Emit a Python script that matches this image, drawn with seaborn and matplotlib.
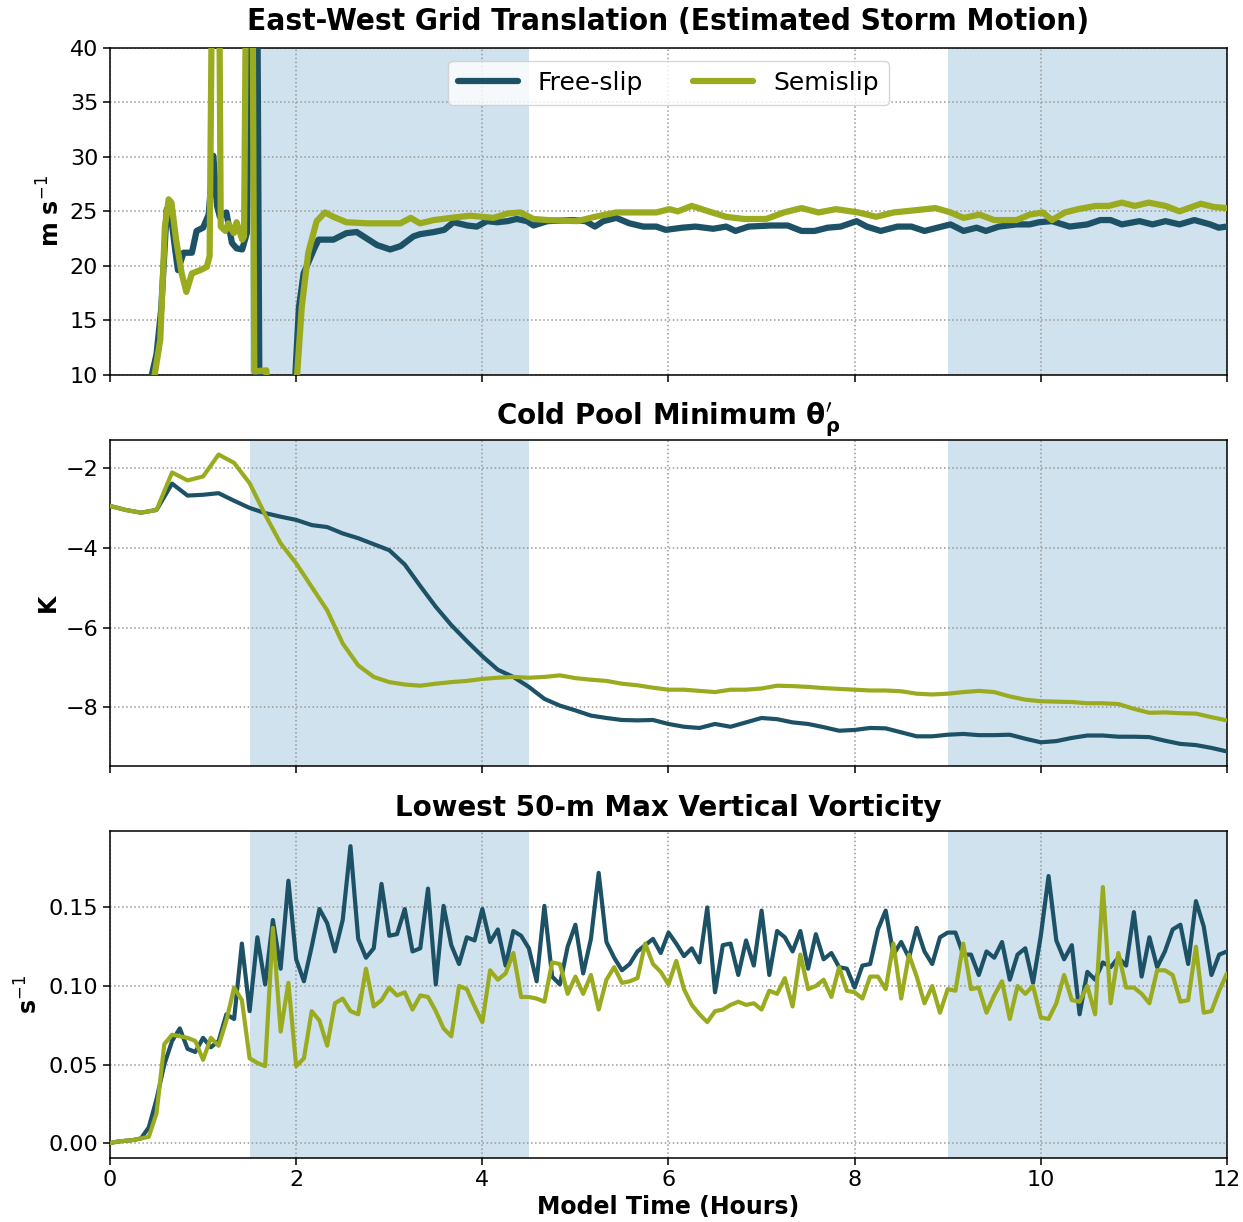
import numpy as np
import pandas as pd
import matplotlib
matplotlib.use("Agg")
import matplotlib.pyplot as plt
import seaborn as sns

# ---------------------------------------------------------------- data
# East-west grid translation (m/s), irregular output times (hours)
ew_free_hours = [0.0, 0.25, 0.42, 0.45, 0.50, 0.55, 0.61, 0.66, 0.70, 0.73, 0.79, 0.88, 0.93,
                 1.00, 1.06, 1.11, 1.15, 1.18, 1.25, 1.31, 1.36, 1.42, 1.47, 1.51, 1.58, 1.61,
                 1.96, 2.03, 2.08, 2.19, 2.24, 2.40, 2.54, 2.65, 2.76, 2.87, 3.01, 3.12, 3.26,
                 3.33, 3.48, 3.59, 3.69, 3.84, 3.94, 4.05, 4.16, 4.27, 4.37, 4.48, 4.55, 4.70,
                 4.97, 5.11, 5.21, 5.30, 5.44, 5.58, 5.73, 5.87, 5.97, 6.15, 6.29, 6.48, 6.62,
                 6.72, 6.86, 7.10, 7.28, 7.43, 7.57, 7.71, 7.85, 8.02, 8.13, 8.28, 8.46, 8.61,
                 8.75, 8.89, 9.03, 9.17, 9.31, 9.41, 9.55, 9.74, 9.88, 9.98, 10.12, 10.31,
                 10.50, 10.64, 10.75, 10.87, 11.06, 11.20, 11.34, 11.49, 11.65, 11.82, 11.91,
                 12.0]
ew_free = [0.0, 0.0, 4.0, 10.0, 11.9, 16.0, 25.2, 24.2, 21.5, 19.6, 21.2, 21.2, 23.2,
           23.5, 24.7, 30.1, 25.5, 24.5, 24.9, 22.1, 21.6, 21.5, 23.0, 50.0, 50.0, 0.0,
           5.0, 16.2, 19.3, 21.5, 22.4, 22.4, 23.0, 23.1, 22.5, 21.9, 21.5, 21.8, 22.7,
           22.9, 23.1, 23.3, 24.0, 23.7, 23.6, 24.1, 24.0, 24.1, 24.3, 24.1, 23.7, 24.1,
           24.2, 24.1, 23.6, 24.1, 24.4, 23.9, 23.6, 23.6, 23.3, 23.5, 23.6, 23.4, 23.6,
           23.2, 23.6, 23.7, 23.7, 23.2, 23.2, 23.5, 23.6, 24.1, 23.6, 23.2, 23.6, 23.6,
           23.2, 23.5, 23.8, 23.2, 23.5, 23.2, 23.6, 23.8, 23.8, 24.0, 24.1, 23.6,
           23.8, 24.2, 24.2, 23.8, 24.1, 23.8, 24.1, 23.8, 24.2, 23.8, 23.5,
           23.6]

ew_semi_hours = [0.0, 0.25, 0.45, 0.48, 0.54, 0.59, 0.63, 0.66, 0.71, 0.77, 0.82, 0.88, 0.97,
                 1.04, 1.07, 1.10, 1.17, 1.19, 1.24, 1.27, 1.33, 1.36, 1.42, 1.44, 1.465,
                 1.53, 1.55, 1.68, 1.70, 1.97, 2.06, 2.13, 2.22, 2.31, 2.40, 2.54, 2.76, 3.12,
                 3.23, 3.33, 3.48, 3.66, 3.87, 4.12, 4.27, 4.41, 4.55, 4.70, 5.02, 5.21, 5.44,
                 5.68, 5.87, 6.01, 6.10, 6.25, 6.43, 6.62, 6.81, 7.05, 7.24, 7.43, 7.61, 7.80,
                 8.04, 8.23, 8.42, 8.65, 8.87, 9.03, 9.17, 9.34, 9.50, 9.74, 9.88, 10.02,
                 10.12, 10.26, 10.40, 10.59, 10.73, 10.87, 11.01, 11.16, 11.34, 11.49, 11.72,
                 11.86, 12.0]
ew_semi = [0.0, 0.0, 3.0, 10.0, 13.2, 23.6, 26.1, 25.8, 22.4, 19.3, 17.6, 19.3, 19.6,
           19.9, 20.9, 50.0, 50.0, 23.6, 23.2, 23.9, 23.0, 24.0, 22.4, 22.7, 50.0,
           50.0, 10.3, 10.4, 0.0, 5.0, 16.2, 21.2, 24.1, 24.9, 24.5, 24.0, 23.9, 23.9,
           24.4, 23.9, 24.2, 24.4, 24.6, 24.4, 24.8, 24.9, 24.3, 24.2, 24.1, 24.5, 24.9,
           24.9, 24.9, 25.2, 25.0, 25.5, 25.0, 24.5, 24.3, 24.3, 24.9, 25.3, 24.9, 25.2,
           24.9, 24.5, 24.9, 25.1, 25.3, 24.9, 24.4, 24.7, 24.2, 24.2, 24.7, 24.9,
           24.2, 24.9, 25.2, 25.5, 25.5, 25.8, 25.5, 25.8, 25.5, 25.0, 25.7,
           25.4, 25.3]

# Cold pool minimum density potential temperature perturbation (K), 10-min output
cp_hours = [i / 6 for i in range(73)]
cp_free = [-2.95, -3.05, -3.12, -3.05, -2.39, -2.69, -2.67, -2.63, -2.82, -3.00, -3.13, -3.22,
           -3.30, -3.43, -3.48, -3.64, -3.76, -3.91, -4.06, -4.42, -4.96, -5.48, -5.94, -6.34,
           -6.72, -7.06, -7.24, -7.49, -7.79, -7.96, -8.08, -8.21, -8.27, -8.32, -8.33, -8.32,
           -8.42, -8.49, -8.52, -8.42, -8.49, -8.38, -8.27, -8.30, -8.38, -8.42, -8.50, -8.59,
           -8.57, -8.52, -8.53, -8.63, -8.73, -8.73, -8.69, -8.67, -8.70, -8.70, -8.69, -8.79,
           -8.88, -8.85, -8.77, -8.71, -8.71, -8.74, -8.74, -8.75, -8.84, -8.92, -8.95, -9.02,
           -9.11]
cp_semi = [-2.95, -3.05, -3.12, -3.05, -2.11, -2.31, -2.21, -1.66, -1.87, -2.38, -3.17, -3.89,
           -4.39, -4.98, -5.57, -6.40, -6.95, -7.24, -7.37, -7.43, -7.46, -7.41, -7.37, -7.34,
           -7.29, -7.26, -7.24, -7.26, -7.24, -7.20, -7.27, -7.31, -7.34, -7.41, -7.45, -7.51,
           -7.56, -7.56, -7.59, -7.62, -7.56, -7.56, -7.53, -7.46, -7.47, -7.49, -7.52, -7.54,
           -7.56, -7.58, -7.58, -7.60, -7.66, -7.68, -7.66, -7.62, -7.59, -7.62, -7.73, -7.81,
           -7.85, -7.86, -7.87, -7.90, -7.90, -7.92, -8.04, -8.14, -8.13, -8.15, -8.16, -8.25,
           -8.33]

# Lowest 50-m maximum vertical vorticity (1/s), 5-min output
vort_hours = [i / 12 for i in range(145)]
vort_free = [0.000, 0.001, 0.0015, 0.002, 0.003, 0.010, 0.028, 0.050, 0.065, 0.073, 0.060, 0.058,
             0.067, 0.061, 0.065, 0.082, 0.079, 0.127, 0.084, 0.131, 0.101, 0.142, 0.111, 0.167,
             0.117, 0.103, 0.125, 0.149, 0.140, 0.122, 0.142, 0.189, 0.130, 0.118, 0.124, 0.165,
             0.132, 0.133, 0.149, 0.122, 0.124, 0.162, 0.101, 0.151, 0.126, 0.114, 0.131, 0.129,
             0.149, 0.128, 0.136, 0.113, 0.135, 0.132, 0.124, 0.103, 0.151, 0.106, 0.101, 0.125,
             0.139, 0.108, 0.130, 0.172, 0.128, 0.118, 0.110, 0.114, 0.122, 0.126, 0.130, 0.121,
             0.134, 0.127, 0.119, 0.124, 0.115, 0.150, 0.096, 0.126, 0.127, 0.107, 0.129, 0.113,
             0.148, 0.107, 0.135, 0.131, 0.122, 0.135, 0.111, 0.133, 0.117, 0.121, 0.112, 0.111,
             0.099, 0.113, 0.114, 0.136, 0.148, 0.120, 0.128, 0.118, 0.137, 0.122, 0.114, 0.131,
             0.134, 0.134, 0.120, 0.120, 0.107, 0.122, 0.118, 0.128, 0.104, 0.120, 0.124, 0.102,
             0.132, 0.170, 0.129, 0.117, 0.126, 0.082, 0.109, 0.104, 0.115, 0.112, 0.118, 0.113,
             0.147, 0.106, 0.131, 0.112, 0.122, 0.136, 0.139, 0.114, 0.154, 0.138, 0.107, 0.120,
             0.122]
vort_semi = [0.000, 0.001, 0.0015, 0.002, 0.003, 0.004, 0.019, 0.063, 0.069, 0.068, 0.067, 0.065,
             0.053, 0.067, 0.062, 0.078, 0.099, 0.091, 0.054, 0.051, 0.049, 0.137, 0.071, 0.102,
             0.049, 0.054, 0.084, 0.078, 0.062, 0.089, 0.092, 0.084, 0.082, 0.111, 0.087, 0.091,
             0.099, 0.094, 0.096, 0.085, 0.094, 0.093, 0.084, 0.073, 0.068, 0.100, 0.098, 0.087,
             0.077, 0.110, 0.104, 0.108, 0.121, 0.093, 0.093, 0.092, 0.090, 0.115, 0.114, 0.095,
             0.106, 0.095, 0.107, 0.085, 0.104, 0.112, 0.102, 0.103, 0.105, 0.127, 0.114, 0.109,
             0.101, 0.116, 0.098, 0.088, 0.082, 0.077, 0.084, 0.085, 0.088, 0.090, 0.088, 0.089,
             0.085, 0.097, 0.095, 0.105, 0.087, 0.120, 0.098, 0.100, 0.104, 0.093, 0.112, 0.097,
             0.096, 0.092, 0.106, 0.106, 0.098, 0.127, 0.092, 0.120, 0.106, 0.089, 0.100, 0.083,
             0.098, 0.097, 0.127, 0.098, 0.099, 0.083, 0.094, 0.103, 0.079, 0.100, 0.095, 0.100,
             0.080, 0.079, 0.089, 0.107, 0.091, 0.090, 0.100, 0.082, 0.163, 0.089, 0.121, 0.099,
             0.099, 0.095, 0.089, 0.110, 0.110, 0.107, 0.090, 0.091, 0.125, 0.083, 0.084, 0.097,
             0.108]

series_labels = ["Free-slip", "Semislip"]
series_colors = ["#1d5266", "#9aab1f"]
shade_windows = [(1.5, 4.5), (9.0, 12.0)]
panel_titles = ["East-West Grid Translation (Estimated Storm Motion)",
                r"Cold Pool Minimum $\mathbf{\theta}^{\prime}_{\mathbf{\rho}}$",
                "Lowest 50-m Max Vertical Vorticity"]
panel_ylabels = ["m s$^{-1}$", "K", "s$^{-1}$"]

# ---------------------------------------------------------------- figure
sns.set_theme(style="ticks")
plt.rcParams.update({
    "font.family": ["DejaVu Sans"],
    "mathtext.fontset": "dejavusans",
    "axes.edgecolor": "black",
    "text.color": "black",
    "axes.labelcolor": "black",
    "xtick.color": "black",
    "ytick.color": "black",
})

fig, axes = plt.subplots(3, 1, figsize=(12.43, 12.22), dpi=100, sharex=True)
fig.subplots_adjust(left=0.0885, right=0.9871, top=0.9607, bottom=0.0524, hspace=0.199)

panels = [
    ((ew_free_hours, ew_free), (ew_semi_hours, ew_semi), 4.5),
    ((cp_hours, cp_free), (cp_hours, cp_semi), 3.0),
    ((vort_hours, vort_free), (vort_hours, vort_semi), 3.0),
]

for i, (ax, (free, semi, lw)) in enumerate(zip(axes, panels)):
    for (t, v), lab, col in zip((free, semi), series_labels, series_colors):
        df = pd.DataFrame({"hours": t, "value": v})
        sns.lineplot(data=df, x="hours", y="value", ax=ax, color=col, lw=lw,
                     label=lab if i == 0 else None, legend=False, zorder=3)
    for x0, x1 in shade_windows:
        ax.axvspan(x0, x1, color="#d0e2ee", zorder=0, lw=0)
    ax.set_axisbelow(True)
    ax.grid(True, ls=":", color="#999999", lw=1.1)
    ax.set_xlim(0, 12)
    ax.set_xticks(range(0, 13, 2))
    ax.tick_params(labelsize=16, length=5, width=1.1, color="black", labelcolor="black")
    for s in ax.spines.values():
        s.set_color("black")
        s.set_linewidth(1.1)
    ax.set_ylabel(panel_ylabels[i], fontsize=17, fontweight="bold", color="black")
    ax.set_xlabel("")

axes[0].set_title(panel_titles[0], fontsize=22.5, fontweight="bold", fontstretch="condensed",
                  pad=13, color="black")
axes[1].set_title(panel_titles[1], fontsize=20, fontweight="bold", pad=11, color="black")
axes[2].set_title(panel_titles[2], fontsize=20, fontweight="bold", pad=11, color="black")

axes[0].set_ylim(10, 40)
axes[0].set_yticks(range(10, 41, 5))
axes[2].set_yticks([0.0, 0.05, 0.10, 0.15])
axes[2].yaxis.set_major_formatter(matplotlib.ticker.FormatStrFormatter("%.2f"))
axes[1].set_yticks([-8, -6, -4, -2])

axes[2].set_xlabel("Model Time (Hours)", fontsize=17, fontweight="bold", color="black")

leg = axes[0].legend(loc="upper center", ncol=2, fontsize=18, handlelength=2.4,
                     framealpha=0.8, edgecolor="#cccccc", fancybox=True)
for t in leg.get_texts():
    t.set_color("black")
for h in leg.get_lines():
    h.set_linewidth(4.5)

fig.savefig("out.png", dpi=100)
